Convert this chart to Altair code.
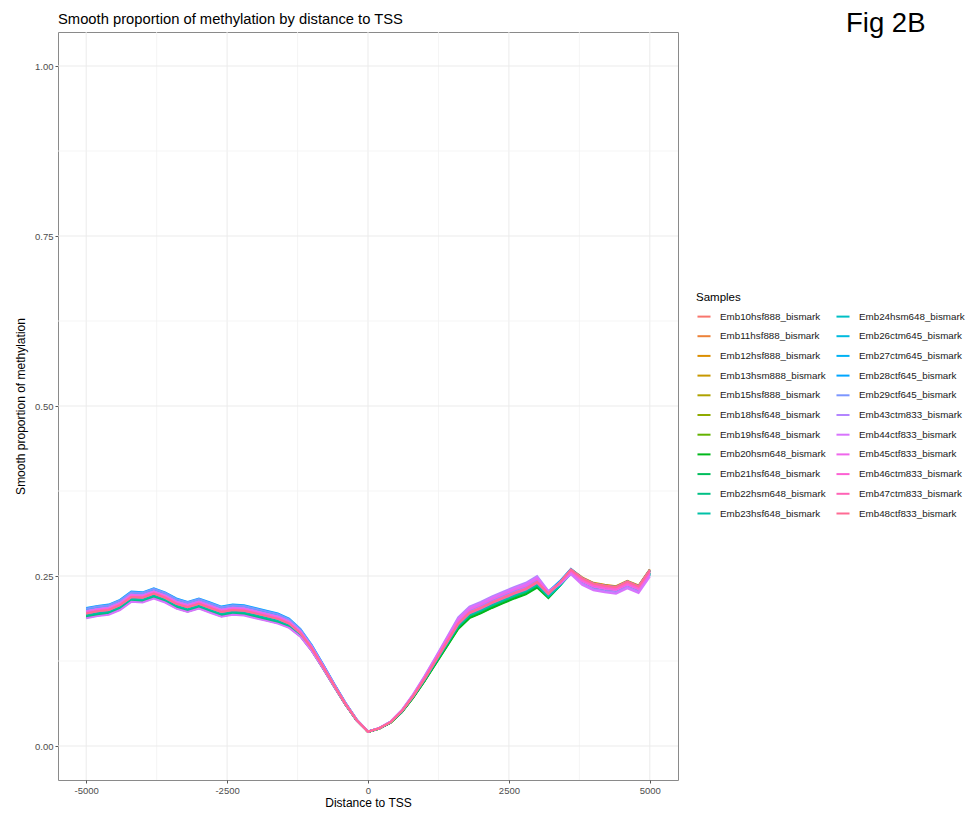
import math
import altair as alt
import pandas as pd

# ---------------- data ----------------
DIST = list(range(-5000, 5001, 200))  # distance to TSS (bp)

# centre of the bundle of sample curves
BASE = [0.195, 0.198, 0.200, 0.207, 0.219, 0.218, 0.224, 0.218, 0.209, 0.204,
        0.209, 0.203, 0.197, 0.200, 0.199, 0.195, 0.191, 0.187, 0.180, 0.166,
        0.144, 0.117, 0.089, 0.062, 0.038, 0.021, 0.026, 0.035, 0.051, 0.073,
        0.098, 0.125, 0.152, 0.179, 0.195, 0.202, 0.210, 0.217, 0.224, 0.230,
        0.240, 0.223, 0.239, 0.258, 0.245, 0.237, 0.234, 0.232, 0.240, 0.233,
        0.257]

# how wide the bundle is in each region (upstream, near downstream, far downstream)
W_LEFT = [1.0] * 18 + [0.9, 0.75, 0.6, 0.45, 0.3, 0.2, 0.1, 0.05] + [0.0] * 25
W_RNEAR = [0.0] * 26 + [0.05, 0.1, 0.2, 0.3, 0.45, 0.6, 0.8] + [1.0] * 8 + [0.7, 0.4, 0.15] + [0.0] * 7
W_RFAR = [0.0] * 41 + [0.3, 0.6, 0.85] + [1.0] * 7

SAMPLES = ["Emb10hsf888_bismark", "Emb11hsf888_bismark", "Emb12hsf888_bismark",
           "Emb13hsm888_bismark", "Emb15hsf888_bismark", "Emb18hsf648_bismark",
           "Emb19hsf648_bismark", "Emb20hsm648_bismark", "Emb21hsf648_bismark",
           "Emb22hsm648_bismark", "Emb23hsf648_bismark", "Emb24hsm648_bismark",
           "Emb26ctm645_bismark", "Emb27ctm645_bismark", "Emb28ctf645_bismark",
           "Emb29ctf645_bismark", "Emb43ctm833_bismark", "Emb44ctf833_bismark",
           "Emb45ctf833_bismark", "Emb46ctm833_bismark", "Emb47ctm833_bismark",
           "Emb48ctf833_bismark"]

# per-sample deviation from the bundle centre
OFF_LEFT = [-0.004, -0.003, -0.002, 0.000, -0.004, -0.003, -0.005, -0.006, -0.005, -0.004, -0.002,
            0.002, 0.005, 0.006, 0.008, 0.007, 0.004, -0.007, 0.003, 0.001, 0.000, 0.000]
OFF_RNEAR = [-0.002, -0.003, -0.004, -0.002, -0.005, -0.004, -0.006, -0.007, -0.004, -0.003, -0.002,
             0.000, 0.003, 0.004, 0.005, 0.004, 0.010, 0.008, 0.006, 0.002, 0.000, 0.001]
OFF_RFAR = [0.002, 0.001, 0.003, 0.000, 0.002, 0.001, 0.000, -0.002, -0.003, -0.004, -0.005,
            -0.004, -0.002, 0.001, 0.002, 0.000, -0.006, -0.008, -0.003, -0.001, 0.001, 0.002]

Y_TICKS = [0.0, 0.25, 0.5, 0.75, 1.0]
X_TICKS = [-5000, -2500, 0, 2500, 5000]
X_MINOR = [-3750, -1250, 1250, 3750]
Y_MINOR = [0.125, 0.375, 0.625, 0.875]

TITLE = "Smooth proportion of methylation by distance to TSS"
FIG_LABEL = "Fig 2B"

# ---------------- colours: ggplot2 default hue palette ----------------
def hcl_hex(h, c=100.0, l=65.0):
    hr = math.radians(h)
    u, v = c * math.cos(hr), c * math.sin(hr)
    xn, yn, zn = 0.95047, 1.0, 1.08883
    un = 4 * xn / (xn + 15 * yn + 3 * zn)
    vn = 9 * yn / (xn + 15 * yn + 3 * zn)
    Y = yn * ((l + 16) / 116) ** 3
    up = u / (13 * l) + un
    vp = v / (13 * l) + vn
    X = Y * 9 * up / (4 * vp)
    Z = Y * (12 - 3 * up - 20 * vp) / (4 * vp)
    r = 3.240479 * X - 1.537150 * Y - 0.498535 * Z
    g = -0.969256 * X + 1.875992 * Y + 0.041556 * Z
    b = 0.055648 * X - 0.204043 * Y + 1.057311 * Z
    out = []
    for ch in (r, g, b):
        ch = 1.055 * ch ** (1 / 2.4) - 0.055 if ch > 0.0031308 else 12.92 * ch
        out.append(int(round(min(max(ch, 0), 1) * 255)))
    return "#%02X%02X%02X" % tuple(out)

n = len(SAMPLES)
COLORS = [hcl_hex(15 + i * 360 / n) for i in range(n)]

rows = []
for i, s in enumerate(SAMPLES):
    for k, d in enumerate(DIST):
        val = BASE[k] + W_LEFT[k] * OFF_LEFT[i] + W_RNEAR[k] * OFF_RNEAR[i] + W_RFAR[k] * OFF_RFAR[i]
        rows.append({"Samples": s, "dist": d, "prop": round(val, 4)})
df = pd.DataFrame(rows)

FONT = "Liberation Sans"
xscale = alt.Scale(domain=[-5500, 5500], nice=False, zero=False)
yscale = alt.Scale(domain=[-0.05, 1.05], nice=False, zero=False)

xaxis = alt.Axis(values=X_TICKS, grid=False, domain=False, title="Distance to TSS",
                 labelExpr="replace(format(datum.value, 'd'), '\u2212', '-')")
yaxis = alt.Axis(values=Y_TICKS, format=".2f", grid=False, domain=False,
                 title="Smooth proportion of methylation")

gx_minor = alt.Chart(pd.DataFrame({"g": X_MINOR})).mark_rule(color="#F2F2F2", strokeWidth=0.8).encode(
    x=alt.X("g:Q", scale=xscale, axis=xaxis))
gx_major = alt.Chart(pd.DataFrame({"g": X_TICKS})).mark_rule(color="#EBEBEB", strokeWidth=1).encode(
    x=alt.X("g:Q", scale=xscale, axis=xaxis))
gy_minor = alt.Chart(pd.DataFrame({"g": Y_MINOR})).mark_rule(color="#F2F2F2", strokeWidth=0.8).encode(
    y=alt.Y("g:Q", scale=yscale, axis=yaxis))
gy_major = alt.Chart(pd.DataFrame({"g": Y_TICKS})).mark_rule(color="#EBEBEB", strokeWidth=1).encode(
    y=alt.Y("g:Q", scale=yscale, axis=yaxis))

lines = alt.Chart(df).mark_line(strokeWidth=2).encode(
    x=alt.X("dist:Q", scale=xscale, axis=xaxis),
    y=alt.Y("prop:Q", scale=yscale, axis=yaxis),
    color=alt.Color("Samples:N", scale=alt.Scale(domain=SAMPLES, range=COLORS),
                    legend=alt.Legend(title="Samples", orient="none", legendX=638, legendY=260,
                                      columns=2, symbolType="stroke", symbolSize=170,
                                      symbolStrokeWidth=2, labelFontSize=9.8, labelFont=FONT,
                                      labelColor="#1A1A1A", titleFontSize=11.5, titleFont=FONT,
                                      titleFontWeight="normal", titleColor="black",
                                      rowPadding=6.7, columnPadding=6, labelOffset=8,
                                      titlePadding=5, labelLimit=200)),
    order=alt.Order("dist:Q"),
)

title_txt = alt.Chart(alt.Data(values=[{"t": TITLE}])).mark_text(
    align="left", baseline="alphabetic", fontSize=14.75, font=FONT, color="black"
).encode(x=alt.value(0), y=alt.value(-8.5), text="t:N")

fig = alt.Chart(alt.Data(values=[{"t": FIG_LABEL}])).mark_text(
    align="left", baseline="alphabetic", fontSize=27.5, font=FONT, color="black"
).encode(x=alt.value(788), y=alt.value(0), text="t:N")

chart = alt.layer(gx_minor, gx_major, gy_minor, gy_major, lines, title_txt, fig).properties(
    width=620, height=748,
    padding={"left": 6, "top": 2, "right": 0, "bottom": 0},
).configure_view(stroke="#8A8A8A", strokeWidth=1).configure_axis(
    tickColor="#555555", tickSize=3, tickWidth=1, labelColor="#4D4D4D", labelFontSize=9.5,
    labelFont=FONT, labelPadding=2, titleFont=FONT, titleFontSize=12, titleFontWeight="normal",
    titleColor="black",
).configure_axisX(titlePadding=3).configure_axisY(titlePadding=7)

chart.save("out.html", embed_options={"renderer": "svg", "actions": False})
